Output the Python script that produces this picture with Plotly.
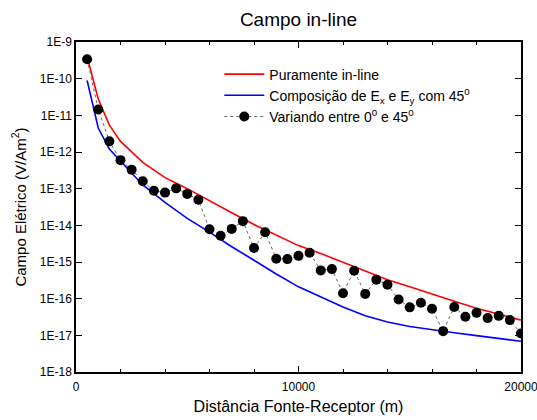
import plotly.graph_objects as go

# ---- data ----
dist_dots = [500, 1000, 1500, 2000, 2500, 3000, 3500, 4000, 4500, 5000,
             5500, 6000, 6500, 7000, 7500, 8000, 8500, 9000, 9500, 10000,
             10500, 11000, 11500, 12000, 12500, 13000, 13500, 14000, 14500, 15000,
             15500, 16000, 16500, 17000, 17500, 18000, 18500, 19000, 19500, 20000]
campo_variando = [3.4e-10, 1.45e-11, 1.95e-12, 6.0e-13, 3.3e-13, 1.6e-13, 8.8e-14, 7.8e-14, 1.02e-13, 7.2e-14,
                  5.0e-14, 7.8e-15, 5.2e-15, 8.0e-15, 1.3e-14, 2.4e-15, 6.5e-15, 1.23e-15, 1.2e-15, 1.47e-15,
                  1.78e-15, 5.9e-16, 6.4e-16, 1.41e-16, 5.8e-16, 1.35e-16, 3.3e-16, 2.4e-16, 9.5e-17, 5.8e-17,
                  7.7e-17, 5.3e-17, 1.3e-17, 5.9e-17, 3.2e-17, 4.1e-17, 2.95e-17, 3.4e-17, 2.6e-17, 1.13e-17]

dist_curves = [500, 1000, 1500, 2000, 3000, 4000, 5000, 6000, 7000, 8000, 9000,
               10000, 11000, 12000, 13000, 14000, 15000, 16000, 17000, 18000, 19000, 20000]
campo_inline = [4.0e-10, 2.8e-11, 5.4e-12, 1.95e-12, 5.2e-13, 2.0e-13, 1.0e-13, 4.8e-14, 2.2e-14, 1.05e-14, 5.4e-15,
                2.8e-15, 1.7e-15, 1.0e-15, 5.6e-16, 3.3e-16, 2.1e-16, 1.32e-16, 8.5e-17, 5.5e-17, 3.7e-17, 2.6e-17]
campo_composicao = [8.9e-11, 4.5e-12, 1.2e-12, 5.6e-13, 1.26e-13, 4.2e-14, 1.55e-14, 6.5e-15, 2.6e-15, 1.12e-15, 4.7e-16,
                    2.1e-16, 1.1e-16, 5.9e-17, 3.4e-17, 2.3e-17, 1.74e-17, 1.41e-17, 1.17e-17, 9.8e-18, 8.1e-18, 6.9e-18]

y_tickvals = [1e-18, 1e-17, 1e-16, 1e-15, 1e-14, 1e-13, 1e-12, 1e-11, 1e-10, 1e-9]
y_ticktext = ["1E-18", "1E-17", "1E-16", "1E-15", "1E-14", "1E-13", "1E-12", "1E-11", "1E-10", "1E-9"]
x_tickvals = [0, 10000, 20000]
x_ticktext = ["0", "10000", "20000"]

FONT = "Arial, Liberation Sans, sans-serif"

fig = go.Figure()
fig.add_trace(go.Scatter(
    x=dist_curves, y=campo_inline, mode="lines",
    line=dict(color="#ff0000", width=1.6),
    name="Puramente in-line"))
fig.add_trace(go.Scatter(
    x=dist_curves, y=campo_composicao, mode="lines",
    line=dict(color="#0000ff", width=1.6),
    name="Composição de E<sub>x</sub> e E<sub>y</sub> com 45<sup>0</sup>"))
fig.add_trace(go.Scatter(
    x=dist_dots, y=campo_variando, mode="lines+markers",
    line=dict(color="#666666", width=1, dash="dot"),
    marker=dict(color="black", size=10),
    name="Variando entre 0<sup>0</sup> e 45<sup>0</sup>"))

fig.update_layout(
    width=537, height=420,
    margin=dict(l=76, r=16, t=42, b=48, autoexpand=False),
    paper_bgcolor="white", plot_bgcolor="white",
    font=dict(family=FONT, size=12, color="black"),
    title=dict(text="Campo in-line", x=0.5, xref="paper", xanchor="center",
               y=1 - 19 / 420, yref="container", yanchor="middle",
               font=dict(family=FONT, size=19, color="black")),
    showlegend=True,
    legend=dict(x=0.322, y=0.95, xanchor="left", yanchor="top",
                bgcolor="rgba(0,0,0,0)", borderwidth=0,
                font=dict(family=FONT, size=14, color="black"),
                itemwidth=40),
)

fig.update_xaxes(
    range=[0, 20000], showgrid=False, zeroline=False, automargin=False,
    showline=True, linecolor="black", linewidth=1.5, mirror="ticks",
    ticks="inside", ticklen=6, tickwidth=1, tickcolor="black",
    tickvals=x_tickvals, ticktext=x_ticktext,
    ticklabeloverflow="allow", ticklabelstandoff=3,
    tickfont=dict(family=FONT, size=12, color="black"),
    minor=dict(dtick=2000, ticks="inside", ticklen=3, tickwidth=1, tickcolor="black", showgrid=False),
    title=dict(text="Distância Fonte-Receptor (m)", standoff=8,
               font=dict(family=FONT, size=16, color="black")),
)
fig.update_yaxes(
    type="log", range=[-18, -9], showgrid=False, zeroline=False, automargin=False,
    showline=True, linecolor="black", linewidth=1.5, mirror="ticks",
    ticks="inside", ticklen=6, tickwidth=1, tickcolor="black",
    tickvals=y_tickvals, ticktext=y_ticktext,
    tickfont=dict(family=FONT, size=12, color="black"),
    title=dict(text="Campo Elétrico (V/Am<sup>2</sup>)", standoff=10,
               font=dict(family=FONT, size=15, color="black")),
)

fig.write_html("out.html")
